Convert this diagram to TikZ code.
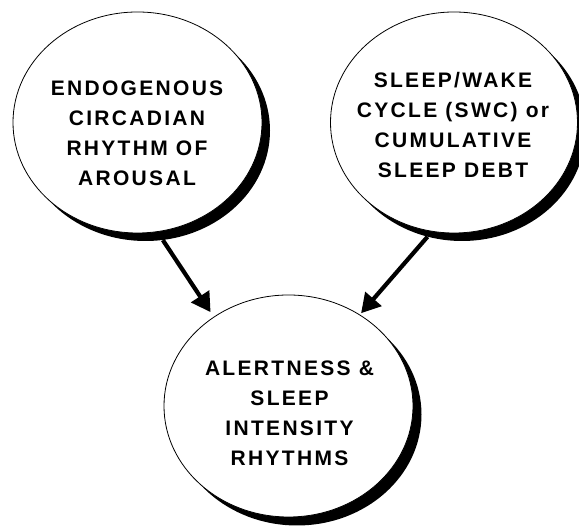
\documentclass[tikz,border=0pt]{standalone}
\usepackage{fontspec}
\newfontfamily\lblfont{Liberation Sans}[LetterSpace=11]
\usetikzlibrary{shapes.geometric,arrows.meta,backgrounds}
\begin{document}
\begin{tikzpicture}[x=1pt,y=1pt,
  bubble/.style={ellipse, draw=black, line width=0.8pt, fill=white, inner sep=0pt},
  bubbleshadow/.style={ellipse, fill=black, draw=none, inner sep=0pt},
  txt/.style={font=\lblfont\bfseries\fontsize{21}{30}\selectfont, align=center, inner sep=0pt},
  arr/.style={line width=4.2pt, -{Triangle[length=19pt,width=21pt]}}]
\useasboundingbox (0,0) rectangle (579,527);
% shadows
\node[bubbleshadow, minimum width=249pt, minimum height=221pt] (Ls) at (145.5,396.5) {};
\node[bubbleshadow, minimum width=247pt, minimum height=221pt] (Rs) at (462,396.5) {};
\node[bubbleshadow, minimum width=249pt, minimum height=222pt] (Bs) at (297,112.5) {};
% bubbles
\node[bubble, minimum width=249pt, minimum height=221pt] (L) at (137.5,404.5) {};
\node[bubble, minimum width=247pt, minimum height=221pt] (R) at (454,404.5) {};
\node[bubble, minimum width=249pt, minimum height=222pt] (B) at (288.5,121) {};
% texts
\node[txt] (Lt) at (137,393.5) {ENDOGENOUS\\CIRCADIAN\\RHYTHM OF\\AROUSAL};
\node[txt] (Rt) at (453,402) {SLEEP/WAKE\\CYCLE (SWC) or\\CUMULATIVE\\SLEEP DEBT};
\node[txt] (Bt) at (289.5,114) {ALERTNESS \&\\SLEEP\\INTENSITY\\RHYTHMS};
% arrows
\begin{scope}[on background layer]
\draw[arr, shorten >=5.6pt] (Ls.-81.1) -- (B.130.2);
\draw[arr, shorten >=1.8pt] (Rs.252.8) -- (B.52.4);
\end{scope}
\end{tikzpicture}
\end{document}
